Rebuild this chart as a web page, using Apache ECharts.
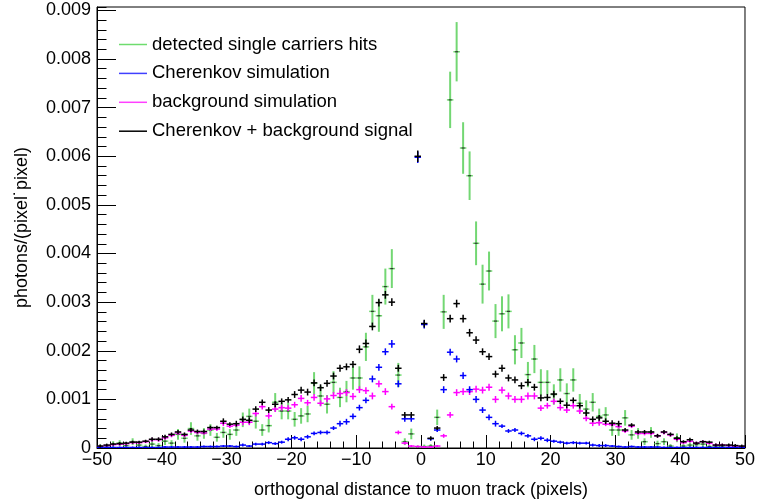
<!DOCTYPE html>
<html><head><meta charset="utf-8">
<script src="https://cdn.jsdelivr.net/npm/echarts@6/dist/echarts.min.js"></script>
<style>html,body{margin:0;padding:0;background:#fff}#c{width:758px;height:504px}</style>
</head><body><div id="c"></div>
<script>
// ---- binning ----
const X_MIN = -50, X_MAX = 50, BIN_WIDTH = 1, N_BINS = 100;
const binCenters = Array.from({length: N_BINS}, (_, i) => X_MIN + BIN_WIDTH * (i + 0.5));

// ---- y axis ----
const Y_MIN = 0, Y_MAX = 0.00907, Y_MAJOR = 0.001, Y_MINOR = 0.0002;
const X_MAJOR = 10;

const seriesNames = ['detected single carriers hits', 'Cherenkov simulation', 'background simulation', 'Cherenkov + background signal'];

// detected single carriers hits (green)
const detected = [
0.00003,0.00002,0.00008,0.0001,0.00005,0.00013,0.00006,0.00003,0.00008,0.00005,
0.00014,0.0001,0.00028,0.0002,0.0004,0.00025,0.0003,0.00037,0.00022,0.00032,
0.00028,0.00037,0.00058,0.00065,0.00055,0.00037,0.00046,0.00094,0.00076,0.00076,
0.00059,0.00066,0.0007,0.00133,0.00107,0.0009,0.00135,0.00104,0.00116,0.00144,
0.00144,0.00208,0.00281,0.00272,0.00332,0.00369,0.0015,0.00013,0.00029,0.00002,
0.00003,0.00004,0.00063,0.0028,0.00716,0.00815,0.00617,0.0056,0.00421,0.00337,
0.00364,0.00261,0.00276,0.00281,0.00202,0.00216,0.00151,0.00183,0.00135,0.00135,
0.0011,0.0014,0.00112,0.0014,0.00092,0.0008,0.00094,0.00065,0.00068,0.00037,
0.00037,0.00062,0.00027,0.0003,0.00013,0.00032,0.00009,0.00013,0.00004,0.00021,
0.00004,0.00006,0.00007,0.00008,0.00003,0.00002,0.00002,0.00001,0.00001,0.00001];
const detectedErr = [
4e-5,3e-5,6e-5,6e-5,5e-5,7e-5,5e-5,4e-5,6e-5,5e-5,
8e-5,6e-5,11e-5,9e-5,13e-5,10e-5,11e-5,12e-5,9e-5,11e-5,
11e-5,12e-5,15e-5,16e-5,15e-5,12e-5,14e-5,19e-5,17e-5,17e-5,
15e-5,16e-5,17e-5,23e-5,21e-5,19e-5,23e-5,20e-5,22e-5,24e-5,
24e-5,29e-5,34e-5,33e-5,37e-5,40e-5,25e-5,7e-5,11e-5,3e-5,
4e-5,4e-5,16e-5,35e-5,58e-5,61e-5,53e-5,50e-5,45e-5,40e-5,
40e-5,35e-5,36e-5,35e-5,30e-5,31e-5,26e-5,29e-5,27e-5,25e-5,
21e-5,24e-5,21e-5,24e-5,19e-5,18e-5,19e-5,16e-5,16e-5,12e-5,
12e-5,16e-5,10e-5,11e-5,7e-5,11e-5,6e-5,7e-5,4e-5,9e-5,
4e-5,5e-5,5e-5,6e-5,4e-5,3e-5,3e-5,2e-5,2e-5,2e-5];

// Cherenkov simulation (blue)
const cherenkov = [
0.00001,0.00001,0.00001,0.00001,0.00001,0.00001,0.00001,0.00001,0.00001,0.00001,
0.00002,0.00002,0.00002,0.00002,0.00002,0.00002,0.00003,0.00003,0.00003,0.00004,
0.00004,0.00003,0.00006,0.00004,0.00008,0.00008,0.00011,0.00009,0.00012,0.00018,
0.00021,0.00018,0.00023,0.0003,0.00032,0.00032,0.00041,0.0005,0.00054,0.00065,
0.00083,0.00098,0.00142,0.00166,0.00198,0.00214,0.00132,0.0006,0.0006,0.00598,
0.00254,0.00019,0.00037,0.0012,0.00197,0.00183,0.00149,0.0012,0.001,0.00078,
0.00063,0.0005,0.00045,0.00035,0.00037,0.0003,0.00025,0.00018,0.0002,0.00016,
0.00014,0.00012,0.0001,0.00011,0.0001,0.0001,0.00006,0.00005,0.00005,0.00004,
0.00003,0.00002,0.00003,0.00002,0.00002,0.00002,0.00002,0.00001,0.00001,0.00001,
0.00001,0.00001,0.00001,0.00001,0.00001,0.00001,0.00001,0.00001,0.00001,0.00001];
const cherenkovErr = [
2e-5,2e-5,2e-5,2e-5,2e-5,2e-5,2e-5,2e-5,2e-5,2e-5,
2e-5,2e-5,2e-5,2e-5,2e-5,2e-5,2e-5,2e-5,2e-5,2e-5,
2e-5,2e-5,3e-5,2e-5,3e-5,3e-5,3e-5,3e-5,3e-5,4e-5,
4e-5,4e-5,4e-5,4e-5,4e-5,4e-5,4e-5,6e-5,6e-5,6e-5,
6e-5,6e-5,7e-5,7e-5,7e-5,8e-5,7e-5,6e-5,6e-5,12e-5,
8e-5,4e-5,4e-5,7e-5,7e-5,7e-5,7e-5,7e-5,7e-5,6e-5,
6e-5,6e-5,4e-5,4e-5,4e-5,4e-5,4e-5,4e-5,4e-5,4e-5,
3e-5,3e-5,3e-5,3e-5,3e-5,3e-5,3e-5,3e-5,3e-5,2e-5,
2e-5,2e-5,2e-5,2e-5,2e-5,2e-5,2e-5,2e-5,2e-5,2e-5,
2e-5,2e-5,2e-5,2e-5,2e-5,2e-5,2e-5,2e-5,2e-5,2e-5];

// background simulation (magenta)
const background = [
0.00003,0.00005,0.00007,0.00008,0.00009,0.00011,0.00011,0.00013,0.00017,0.00017,
0.00021,0.00026,0.00031,0.00026,0.00035,0.00032,0.00031,0.00039,0.00039,0.00051,
0.00045,0.00047,0.00053,0.00053,0.00071,0.00085,0.00066,0.0008,0.00083,0.00082,
0.00089,0.00102,0.00093,0.00104,0.00092,0.00101,0.00108,0.00112,0.00114,0.00106,
0.0012,0.00118,0.00107,0.00132,0.00116,0.00085,0.00032,0.0001,0.00004,0.00003,
0.00002,0.00002,0.00004,0.00025,0.00068,0.00114,0.00116,0.00116,0.00121,0.00119,
0.00125,0.001,0.00119,0.00107,0.001,0.001,0.00107,0.00107,0.00082,0.00087,
0.00096,0.00083,0.00078,0.00087,0.00076,0.00061,0.00051,0.00052,0.00049,0.00048,
0.00044,0.00035,0.00045,0.0003,0.0003,0.0003,0.00025,0.00032,0.00027,0.00018,
0.00011,0.00014,0.0001,0.00013,0.0001,0.00006,0.00006,0.00005,0.00004,0.00003];
const backgroundErr = [
2e-5,3e-5,3e-5,3e-5,3e-5,3e-5,3e-5,3e-5,4e-5,4e-5,
4e-5,4e-5,4e-5,4e-5,4e-5,4e-5,4e-5,4e-5,4e-5,6e-5,
4e-5,4e-5,6e-5,6e-5,6e-5,6e-5,6e-5,6e-5,6e-5,6e-5,
6e-5,7e-5,6e-5,7e-5,6e-5,7e-5,7e-5,7e-5,7e-5,7e-5,
7e-5,7e-5,7e-5,7e-5,7e-5,6e-5,4e-5,3e-5,2e-5,2e-5,
2e-5,2e-5,2e-5,4e-5,6e-5,7e-5,7e-5,7e-5,7e-5,7e-5,
7e-5,7e-5,7e-5,7e-5,7e-5,7e-5,7e-5,7e-5,6e-5,6e-5,
6e-5,6e-5,6e-5,6e-5,6e-5,6e-5,6e-5,6e-5,4e-5,4e-5,
4e-5,4e-5,4e-5,4e-5,4e-5,4e-5,4e-5,4e-5,4e-5,4e-5,
3e-5,3e-5,3e-5,3e-5,3e-5,3e-5,3e-5,3e-5,3e-5,2e-5];

// Cherenkov + background signal (black)
const combined = [
0.00004,0.00006,0.00008,0.00009,0.0001,0.00012,0.00012,0.00014,0.00018,0.00018,
0.00023,0.00028,0.00033,0.00028,0.00037,0.00034,0.00034,0.00042,0.00042,0.00055,
0.00049,0.0005,0.00059,0.00057,0.0008,0.00094,0.00078,0.0009,0.00096,0.00099,
0.0011,0.00119,0.00115,0.00134,0.00124,0.00133,0.00148,0.00164,0.00167,0.00172,
0.00203,0.00215,0.0025,0.00299,0.00315,0.003,0.00164,0.00068,0.00068,0.006,
0.00256,0.0002,0.00041,0.00145,0.00266,0.00297,0.00266,0.00237,0.00222,0.00198,
0.00188,0.00152,0.00164,0.00144,0.0014,0.00128,0.00135,0.00125,0.00103,0.00104,
0.00111,0.00096,0.00088,0.00098,0.00087,0.00072,0.00059,0.00062,0.00055,0.00051,
0.0005,0.00037,0.00047,0.00033,0.00033,0.00033,0.00025,0.00033,0.00028,0.0002,
0.00013,0.00017,0.0001,0.00013,0.00012,0.00006,0.00006,0.00006,0.00005,0.00004];
const combinedErr = [
3e-5,3e-5,3e-5,3e-5,3e-5,3e-5,3e-5,3e-5,4e-5,4e-5,
4e-5,4e-5,4e-5,4e-5,4e-5,4e-5,4e-5,4e-5,4e-5,6e-5,
4e-5,6e-5,6e-5,6e-5,6e-5,6e-5,6e-5,6e-5,6e-5,6e-5,
7e-5,7e-5,7e-5,7e-5,7e-5,7e-5,7e-5,7e-5,7e-5,7e-5,
8e-5,8e-5,8e-5,8e-5,8e-5,8e-5,7e-5,6e-5,6e-5,12e-5,
8e-5,4e-5,4e-5,7e-5,8e-5,8e-5,8e-5,8e-5,8e-5,7e-5,
7e-5,7e-5,7e-5,7e-5,7e-5,7e-5,7e-5,7e-5,7e-5,7e-5,
7e-5,6e-5,6e-5,6e-5,6e-5,6e-5,6e-5,6e-5,6e-5,6e-5,
6e-5,4e-5,4e-5,4e-5,4e-5,4e-5,4e-5,4e-5,4e-5,4e-5,
3e-5,4e-5,3e-5,3e-5,3e-5,3e-5,3e-5,3e-5,3e-5,3e-5];

const FONT = 'Liberation Sans, Arial, Helvetica, sans-serif';
const COLORS = {green: 'rgb(110,220,110)', blue: '#4040ff', magenta: '#ff40ff', black: '#000000'};

function makeData(vals, errs) { return binCenters.map((x, i) => [x, vals[i], errs[i]]); }

function crossRenderer(hColor, hWidth, vColor, vWidth, centerMark) {
  return function (params, api) {
    const x = api.value(0), y = api.value(1), e = api.value(2);
    const l = api.coord([x - BIN_WIDTH / 2, y]), r = api.coord([x + BIN_WIDTH / 2, y]);
    const t = api.coord([x, y + e]), b = api.coord([x, y - e]);
    const children = [
      {type: 'line', shape: {x1: t[0], y1: t[1], x2: b[0], y2: b[1]}, style: {stroke: vColor, lineWidth: vWidth}},
      {type: 'line', shape: {x1: l[0], y1: l[1], x2: r[0], y2: r[1]}, style: {stroke: hColor, lineWidth: hWidth}}
    ];
    if (centerMark) {
      const c = api.coord([x, y]);
      children.push({type: 'rect', shape: {x: c[0] - 1.5, y: c[1] - 0.6, width: 3, height: 1.2}, style: {fill: centerMark}});
    }
    return {type: 'group', children};
  };
}

function series(name, vals, errs, color, renderer, z) {
  return {
    name, type: 'custom', clip: true, z,
    itemStyle: {color},
    encode: {x: 0, y: 1},
    renderItem: renderer,
    data: makeData(vals, errs)
  };
}

const chart = echarts.init(document.getElementById('c'), null, {renderer: 'canvas'});
chart.setOption({
  animation: false,
  backgroundColor: '#ffffff',
  grid: {left: 97, right: 11, top: 7, bottom: 56, show: true, borderColor: '#000', borderWidth: 1, backgroundColor: 'transparent'},
  legend: {
    orient: 'vertical', left: 119, top: 35, padding: 0,
    itemWidth: 28, itemHeight: 1.5, itemGap: 9.9, icon: 'rect', selectedMode: false,
    textStyle: {fontSize: 18.5, fontFamily: FONT, color: '#000', lineHeight: 18},
    data: seriesNames
  },
  xAxis: {
    type: 'value', min: X_MIN, max: X_MAX, interval: X_MAJOR,
    name: 'orthogonal distance to muon track (pixels)', nameLocation: 'middle', nameGap: 33,
    nameTextStyle: {fontSize: 18, fontFamily: FONT, color: '#000'},
    axisLine: {show: true, onZero: false, lineStyle: {color: '#000', width: 1}},
    axisTick: {show: true, inside: true, length: 13, lineStyle: {color: '#000', width: 1}},
    minorTick: {show: true, splitNumber: 5, length: 6.5, lineStyle: {color: '#000', width: 1}},
    splitLine: {show: false},
    axisLabel: {fontSize: 18, fontFamily: FONT, color: '#000', margin: 3,
      formatter: v => String(v).replace('-', '\u2212')}
  },
  yAxis: [{
    type: 'value', min: Y_MIN, max: Y_MAX, interval: Y_MAJOR, position: 'left',
    name: 'photons/(pixel\u02D9pixel)', nameLocation: 'middle', nameGap: 66, nameRotate: 90,
    nameTextStyle: {fontSize: 18, fontFamily: FONT, color: '#000'},
    axisLine: {show: true, onZero: false, lineStyle: {color: '#000', width: 1}},
    axisTick: {show: true, inside: true, length: 19, lineStyle: {color: '#000', width: 1}},
    splitLine: {show: false},
    axisLabel: {fontSize: 18, fontFamily: FONT, color: '#000', margin: 6, showMaxLabel: false,
      formatter: v => v === 0 ? '0' : v.toFixed(3)}
  }, {
    type: 'value', min: Y_MIN, max: Y_MAX, interval: Y_MINOR, position: 'left', offset: 0,
    axisLine: {show: false, onZero: false},
    axisTick: {show: true, inside: true, length: 9.5, lineStyle: {color: '#000', width: 1}},
    splitLine: {show: false},
    axisLabel: {show: false}
  }],
  series: [
    series(seriesNames[0], detected, detectedErr, COLORS.green,
      crossRenderer('rgba(96,214,96,0.9)', 1.5, 'rgba(80,205,80,0.8)', 2, '#333333'), 2),
    series(seriesNames[2], background, backgroundErr, COLORS.magenta,
      crossRenderer('#ff00ff', 1.5, '#ff00ff', 1.5, null), 3),
    series(seriesNames[1], cherenkov, cherenkovErr, COLORS.blue,
      crossRenderer('#0000ff', 1.5, '#0000ff', 1.5, null), 4),
    series(seriesNames[3], combined, combinedErr, COLORS.black,
      crossRenderer('#000000', 1.5, '#000000', 1.5, null), 5)
  ]
});
</script>
</body></html>
